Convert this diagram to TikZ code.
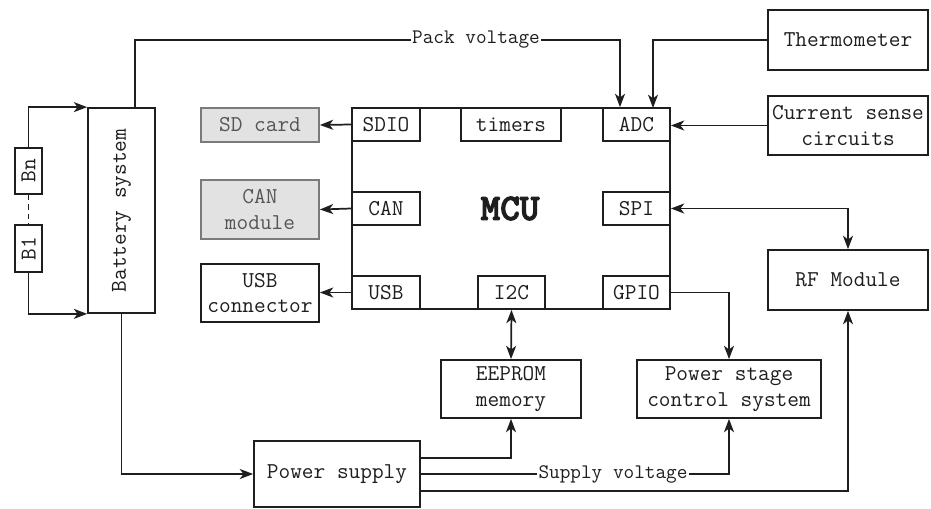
\documentclass[tikz,border=0pt]{standalone}
\usepackage{fontspec}
\renewcommand{\familydefault}{\ttdefault}
\newfontfamily\mcufont{lmmonolt10-bold.otf}[FakeBold=3]
\usetikzlibrary{arrows.meta}
\definecolor{ink}{HTML}{1E1E1E}
\definecolor{greyfill}{HTML}{E2E2E2}
\definecolor{greyline}{HTML}{7A7A7A}
\definecolor{greytext}{HTML}{555555}
\tikzset{
  box/.style 2 args={draw=ink, line width=1.3pt, fill=white, inner sep=0pt,
    minimum width=#1*0.75pt, minimum height=#2*0.75pt, align=center,
    font=\ttfamily\fontsize{17}{19}\selectfont, text=ink},
  greybox/.style 2 args={box={#1}{#2}, fill=greyfill, draw=greyline, text=greytext},
  arr/.style={draw=ink, line width=1.3pt, -{Stealth[length=10pt,width=7.5pt,inset=2.8pt]}},
  darr/.style={draw=ink, line width=1.3pt, {Stealth[length=10pt,width=7.5pt,inset=2.8pt]}-{Stealth[length=10pt,width=7.5pt,inset=2.8pt]}},
  ln/.style={draw=ink, line width=1.3pt},
  lbl/.style={fill=white, inner sep=1pt, font=\ttfamily\fontsize{15.5}{17}\selectfont, text=ink},
  vtxt/.style={rotate=90, font=\ttfamily\fontsize{17}{19}\selectfont, text=ink, inner sep=0pt}
}
\begin{document}
\begin{tikzpicture}[x=0.75pt, y=-0.75pt]
\useasboundingbox (0,0) rectangle (931,509);

% battery system and cells
\node[box={67}{205}] (bat) at (121.5,210.5) {};
\node[vtxt] (battxt) at (bat.center) {Battery system};
\node[box={27}{46}] (bn) at (28.5,171) {};
\node[vtxt] (bntxt) at (bn.center) {Bn};
\node[box={27}{47}] (b1) at (28.5,248.5) {};
\node[vtxt] (b1txt) at (b1.center) {B1};

% peripherals left
\node[greybox={118}{34}] (sd) at (260,125) {SD card};
\node[greybox={118}{59}] (can) at (260,209.5) {CAN\\module};
\node[box={118}{58}] (usbc) at (260,293) {USB\\connector};

% MCU
\node[box={318}{201}] (mcu) at (511,208.5) {};
\node[font=\mcufont\fontsize{28}{30}\selectfont, text=ink] (mcutxt) at (510,208.5) {MCU};
\node[box={68}{33}] (sdio) at (386,124.5) {SDIO};
\node[box={100}{33}] (timers) at (511,124.5) {timers};
\node[box={67}{33}] (adc) at (636.5,124.5) {ADC};
\node[box={68}{33}] (canp) at (386,208.5) {CAN};
\node[box={67}{33}] (spi) at (636.5,208.5) {SPI};
\node[box={68}{33}] (usbp) at (386,292.5) {USB};
\node[box={67}{33}] (i2c) at (511.5,292.5) {I2C};
\node[box={67}{33}] (gpio) at (636.5,292.5) {GPIO};

% right side
\node[box={160}{60}] (therm) at (848,40) {Thermometer};
\node[box={160}{59}] (cur) at (848,125.5) {Current sense\\circuits};
\node[box={160}{60}] (rf) at (848,280) {RF Module};

% bottom
\node[box={140}{58}] (eeprom) at (511,389) {EEPROM\\memory};
\node[box={184}{58}] (pstage) at (729,389) {Power stage\\control system};
\node[box={166}{66}] (ps) at (337,474) {Power supply};

% coordinates
\coordinate (pkA) at (135,108);
\coordinate (pkB) at (620,40);
\coordinate (thA) at (653,108);
\coordinate (psA) at (420,458);
\coordinate (psC) at (420,491);

% connectors
\draw[arr] (bn.north) |- (bat.north west);
\draw[arr] (b1.south) |- (bat.south west);
\draw[ln, dash pattern=on 4pt off 3pt] (bn.south) -- (b1.north);

\draw[arr] (pkA) |- (pkB) -- (pkB |- adc.north);
\node[lbl] (pvlbl) at (476,40) {Pack voltage};
\draw[arr] (therm.west) -| (thA);
\draw[arr] (cur.west) -- (cur.west -| adc.east);
\draw[darr] (spi.east) -| (rf.north);
\draw[arr] (gpio.east) -| (pstage.north);
\draw[darr] (i2c.south) -- (eeprom.north);

\draw[arr] (sdio.west) -- (sd.east);
\draw[arr] (canp.west) -- (can.east);
\draw[arr] (usbp.west) -- (usbp.west -| usbc.east);

\draw[arr] (bat.south) |- (ps.west);
\draw[arr] (psA) -| (eeprom.south);
\draw[arr] (ps.east) -| (pstage.south);
\node[lbl] (svlbl) at (613,474) {Supply voltage};
\draw[arr] (psC) -| (rf.south);
\end{tikzpicture}
\end{document}
